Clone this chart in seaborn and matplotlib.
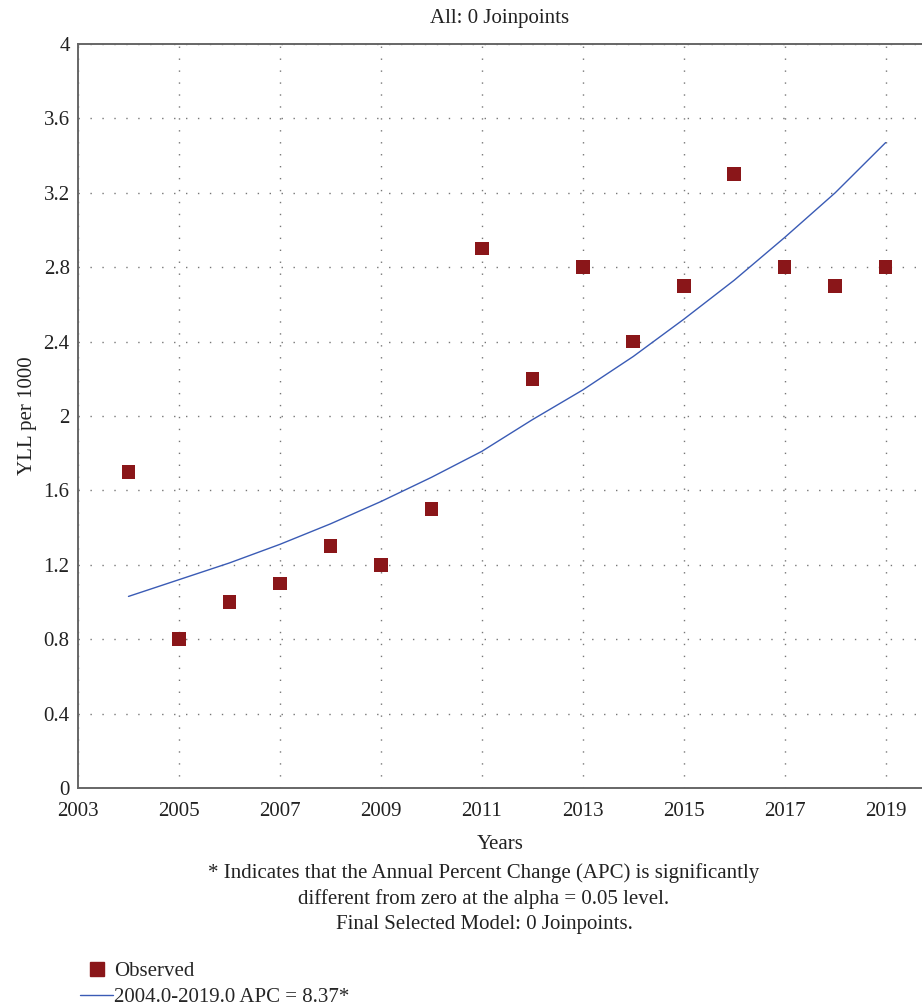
import matplotlib
matplotlib.use("Agg")
import matplotlib.pyplot as plt
from matplotlib.lines import Line2D
import seaborn as sns
import pandas as pd

years = [2004, 2005, 2006, 2007, 2008, 2009, 2010, 2011, 2012, 2013, 2014, 2015, 2016, 2017, 2018, 2019]
observed = [1.7, 0.8, 1.0, 1.1, 1.3, 1.2, 1.5, 2.9, 2.2, 2.8, 2.4, 2.7, 3.3, 2.8, 2.7, 2.8]
fitted = [1.03, 1.12, 1.21, 1.31, 1.42, 1.54, 1.67, 1.81, 1.98, 2.14, 2.32, 2.52, 2.73, 2.96, 3.20, 3.47]
xticks = [2003, 2005, 2007, 2009, 2011, 2013, 2015, 2017, 2019]
yticks = [0, 0.4, 0.8, 1.2, 1.6, 2.0, 2.4, 2.8, 3.2, 3.6, 4.0]
ytick_labels = ["0", "0.4", "0.8", "1.2", "1.6", "2", "2.4", "2.8", "3.2", "3.6", "4"]

title = "All: 0 Joinpoints"
xlabel = "Years"
ylabel = "YLL per 1000"
footnote = ["* Indicates that the Annual Percent Change (APC) is significantly",
            "different from zero at the alpha = 0.05 level.",
            "Final Selected Model: 0 Joinpoints."]
legend_labels = ["Observed", "2004.0-2019.0 APC = 8.37*"]

sns.set_theme(style="white")
plt.rcParams["font.family"] = ["Liberation Serif", "DejaVu Serif"]

RED = "#8a1619"
BLUE = "#3a5bb5"
FS = 15
TXT = "#222222"

df = pd.DataFrame({"year": years, "observed": observed, "fitted": fitted})

fig = plt.figure(figsize=(9.22, 10.06), dpi=100)
ax = fig.add_axes([78 / 922, 218 / 1006, 1 - 78 / 922, 744 / 1006])

sns.lineplot(data=df, x="year", y="fitted", ax=ax, color=BLUE, linewidth=1.0, zorder=3)
sns.scatterplot(data=df, x="year", y="observed", ax=ax, marker="s", s=95,
                color=RED, edgecolor="none", zorder=4)

ax.set_xlim(2003, 2019.72)
ax.set_ylim(0, 4)
ax.set_xticks(xticks)
ax.set_xticklabels([str(t) for t in xticks], fontsize=FS)
ax.set_yticks(yticks)
ax.set_yticklabels(ytick_labels, fontsize=FS)
ax.tick_params(axis="both", length=0, colors=TXT)
ax.tick_params(axis="x", pad=10)
ax.tick_params(axis="y", pad=6)

ax.grid(True, color="#777777", linewidth=1.0, linestyle=(0, (1, 7.6)))
for s in ["left", "bottom", "top"]:
    ax.spines[s].set_color("#666666")
    ax.spines[s].set_linewidth(1.4)
ax.spines["right"].set_visible(False)

ax.set_xlabel(xlabel, fontsize=FS, labelpad=10, color=TXT)
ax.set_ylabel(ylabel, fontsize=FS, labelpad=5, color=TXT)
ax.set_title(title, fontsize=FS, pad=15, color=TXT)

for i, line in enumerate(footnote):
    fig.text(484 / 922, 1 - (873 + 26 * i) / 1006, line, ha="center", va="center",
             fontsize=FS, color=TXT)

handles = [Line2D([], [], marker="s", linestyle="none", color=RED, markersize=9.5),
           Line2D([], [], color=BLUE, linewidth=1.0)]
fig.legend(handles, legend_labels, loc="lower left", bbox_to_anchor=(78 / 922, -0.003),
           frameon=False, fontsize=FS, handlelength=1.6, handletextpad=0.02,
           labelspacing=0.3, borderaxespad=0.0, borderpad=0.1)

fig.savefig("out.png", dpi=100)
